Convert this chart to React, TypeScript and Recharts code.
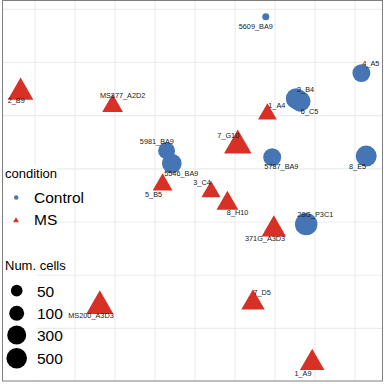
import React from 'react';
import { ScatterChart, Scatter, XAxis, YAxis, ZAxis, CartesianGrid, LabelList } from 'recharts';

const samples = [
  '5609_BA9', '4_A5', '2_B4', '6_C5', '5981_BA9', '5546_BA9', '5787_BA9', '8_E5', '28G_P3C1',
  '2_B9', 'MS377_A2D2', '1_A4', '7_G10', '5_B5', '3_C4', '8_H10', '371G_A3D3', '7_D5', '1_A9', 'MS200_A3D3'
];
const condition = [
  'Control', 'Control', 'Control', 'Control', 'Control', 'Control', 'Control', 'Control', 'Control',
  'MS', 'MS', 'MS', 'MS', 'MS', 'MS', 'MS', 'MS', 'MS', 'MS', 'MS'
];
const pc1 = [1.77, 4.16, 2.53, 2.63, -0.71, -0.58, 1.93, 4.28, 2.78, -4.36, -2.06, 1.81, 1.07, -0.81, 0.4, 0.81, 1.97, 1.45, 2.93, -2.38];
const pc2 = [3.86, 2.8, 2.32, 2.27, 1.34, 1.1, 1.22, 1.24, -0.04, 2.44, 2.18, 2.03, 1.44, 0.7, 0.57, 0.35, -0.14, -1.52, -2.65, -1.58];
const numCells = [25, 220, 520, 520, 170, 365, 220, 570, 950, 300, 112, 80, 480, 97, 84, 137, 237, 190, 237, 440];

const xTicks = [-4, -3, -2, -1, 0, 1, 2, 3, 4];
const yTicks = [-2, -1, 0, 1, 2, 3, 4];
const sizeBreaks = [50, 100, 300, 500];

const X_DOMAIN: [number, number] = [-4.825, 4.675];
const Y_DOMAIN: [number, number] = [-2.99, 4.175];

// ggrepel-style label offsets (px)
const labelNudge: Record<string, [number, number]> = {
  '5609_BA9': [-10, 9.6],
  '4_A5': [9.4, -9.3],
  '2_B4': [9.4, -9.5],
  '6_C5': [9.4, 10.5],
  '5981_BA9': [-9.7, -9.5],
  '5546_BA9': [9.5, 10.4],
  '5787_BA9': [9.2, 9.7],
  '8_E5': [-8.6, 10.2],
  '28G_P3C1': [9, -9.7],
  '2_B9': [-4.4, 8.5],
  'MS377_A2D2': [10, -10.8],
  '1_A4': [9.4, -8.4],
  '7_G10': [-9.5, -9.9],
  '5_B5': [-9, 9.7],
  '3_C4': [-9, -8.9],
  '8_H10': [10.2, 9.4],
  '371G_A3D3': [-8.7, 9.5],
  '7_D5': [9.2, -10],
  '1_A9': [-9.2, 11],
  'MS200_A3D3': [-8.8, 9.4],
};

const BLUE = '#4575b4';
const RED = '#d73027';
const FONT = '"Liberation Sans", Arial, sans-serif';
const SIZE_DOMAIN: [number, number] = [20, 1000];
const SIZE_RANGE: [number, number] = [17, 401];

const rows = samples.map((name, i) => ({
  name,
  condition: condition[i],
  x: pc1[i],
  y: pc2[i],
  cells: numCells[i],
}));
const controlRows = rows.filter((r) => r.condition === 'Control');
const msRows = rows.filter((r) => r.condition === 'MS');

// same log mapping as the ZAxis, used for legend keys only
const legendArea = (c: number) => {
  const t = (Math.log(c) - Math.log(SIZE_DOMAIN[0])) / (Math.log(SIZE_DOMAIN[1]) - Math.log(SIZE_DOMAIN[0]));
  return SIZE_RANGE[0] + t * (SIZE_RANGE[1] - SIZE_RANGE[0]);
};

const triPoints = (cx: number, cy: number, r: number) =>
  `${cx},${cy - 1.555 * r} ${cx - 1.3468 * r},${cy + 0.7776 * r} ${cx + 1.3468 * r},${cy + 0.7776 * r}`;

const radiusOf = (p: any) => (p.width ? p.width / 2 : Math.sqrt((p.size || 64) / Math.PI));

const CircleShape = (p: any) => <circle cx={p.cx} cy={p.cy} r={radiusOf(p)} fill={BLUE} />;
const TriangleShape = (p: any) => <polygon points={triPoints(p.cx, p.cy, radiusOf(p))} fill={RED} />;
const NoShape = () => <g />;

const SampleLabel = (p: any) => {
  const vb = p.viewBox && p.viewBox.width !== undefined ? p.viewBox : p;
  const cx = vb.x + (vb.width || 0) / 2;
  const cy = vb.y + (vb.height || 0) / 2;
  const [dx, dy] = labelNudge[p.value] || [0, 0];
  return (
    <text
      x={cx + dx}
      y={cy + dy}
      textAnchor="middle"
      dominantBaseline="central"
      fontSize={7.3}
      fontFamily={FONT}
      style={{ fill: '#1a1a1a', stroke: 'none' }}
    >
      {p.value}
    </text>
  );
};

// grid positions from the axis scale, falling back to the plot offset
const tickPx = (axis: any, t: number, lo: number, hi: number, d: [number, number]) => {
  const s = axis && axis.scale;
  if (typeof s === 'function') {
    const v = s(t);
    if (typeof v === 'number' && isFinite(v)) return v;
  }
  if (s && typeof s.map === 'function') {
    const v = s.map(t);
    if (typeof v === 'number' && isFinite(v)) return v;
  }
  return lo + ((t - d[0]) / (d[1] - d[0])) * (hi - lo);
};
const gridX = (props: any) => {
  const o = props.offset || { left: 2, top: 0, width: 380, height: 381 };
  return xTicks.map((t) => tickPx(props.xAxis, t, o.left, o.left + o.width, X_DOMAIN));
};
const gridY = (props: any) => {
  const o = props.offset || { left: 2, top: 0, width: 380, height: 381 };
  return yTicks.map((t) => tickPx(props.yAxis, t, o.top + o.height, o.top, Y_DOMAIN));
};

const LegendOverlay = () => (
  <svg width={384} height={384} style={{ position: 'absolute', left: 0, top: 0 }}>
    <rect x={3.5} y={166} width={54} height={67} fill="#fff" />
    <rect x={3.5} y={233} width={33} height={147} fill="#fff" />
    <rect x={2.5} y={0.5} width={380} height={380.5} fill="none" stroke="#7f7f7f" strokeWidth={1} />
    <g fontFamily={FONT} fill="#000">
      <text x={5} y={177.5} fontSize={13}>condition</text>
      <circle cx={16.2} cy={197.5} r={2.2} fill={BLUE} />
      <text x={34} y={203} fontSize={15.5}>Control</text>
      <polygon points={triPoints(16, 220.6, 2.2)} fill={RED} />
      <text x={34} y={225} fontSize={15.5}>MS</text>
      <text x={5} y={270} fontSize={13}>Num. cells</text>
      {sizeBreaks.map((b, i) => {
        const cy = [290.7, 313.3, 335, 358.3][i];
        return (
          <g key={b}>
            <circle cx={16.7} cy={cy} r={Math.sqrt(legendArea(b) / Math.PI)} fill="#000" />
            <text x={37} y={cy + 6} fontSize={15.5}>{b}</text>
          </g>
        );
      })}
    </g>
  </svg>
);

export default function App() {
  return (
    <div style={{ position: 'absolute', left: 0, top: 0, width: 384, height: 384, background: '#fff' }}>
      <ScatterChart width={384} height={384} margin={{ top: 0, right: 2, bottom: 3, left: 2 }}>
        <CartesianGrid
          stroke="#ebebeb"
          strokeWidth={1.1}
          verticalCoordinatesGenerator={gridX}
          horizontalCoordinatesGenerator={gridY}
        />
        <XAxis
          type="number"
          dataKey="x"
          domain={X_DOMAIN}
          allowDataOverflow
          ticks={xTicks}
          tick={false}
          axisLine={false}
          tickLine={false}
          height={0}
        />
        <YAxis
          type="number"
          dataKey="y"
          domain={Y_DOMAIN}
          allowDataOverflow
          ticks={yTicks}
          tick={false}
          axisLine={false}
          tickLine={false}
          width={0}
        />
        <ZAxis type="number" dataKey="cells" scale="log" domain={SIZE_DOMAIN} range={SIZE_RANGE} />
        <Scatter name="Control" data={controlRows} shape={CircleShape} isAnimationActive={false} />
        <Scatter name="MS" data={msRows} shape={TriangleShape} isAnimationActive={false} />
        <Scatter name="labels" data={rows} shape={NoShape} isAnimationActive={false}>
          <LabelList dataKey="name" content={SampleLabel} />
        </Scatter>
      </ScatterChart>
      <LegendOverlay />
    </div>
  );
}
